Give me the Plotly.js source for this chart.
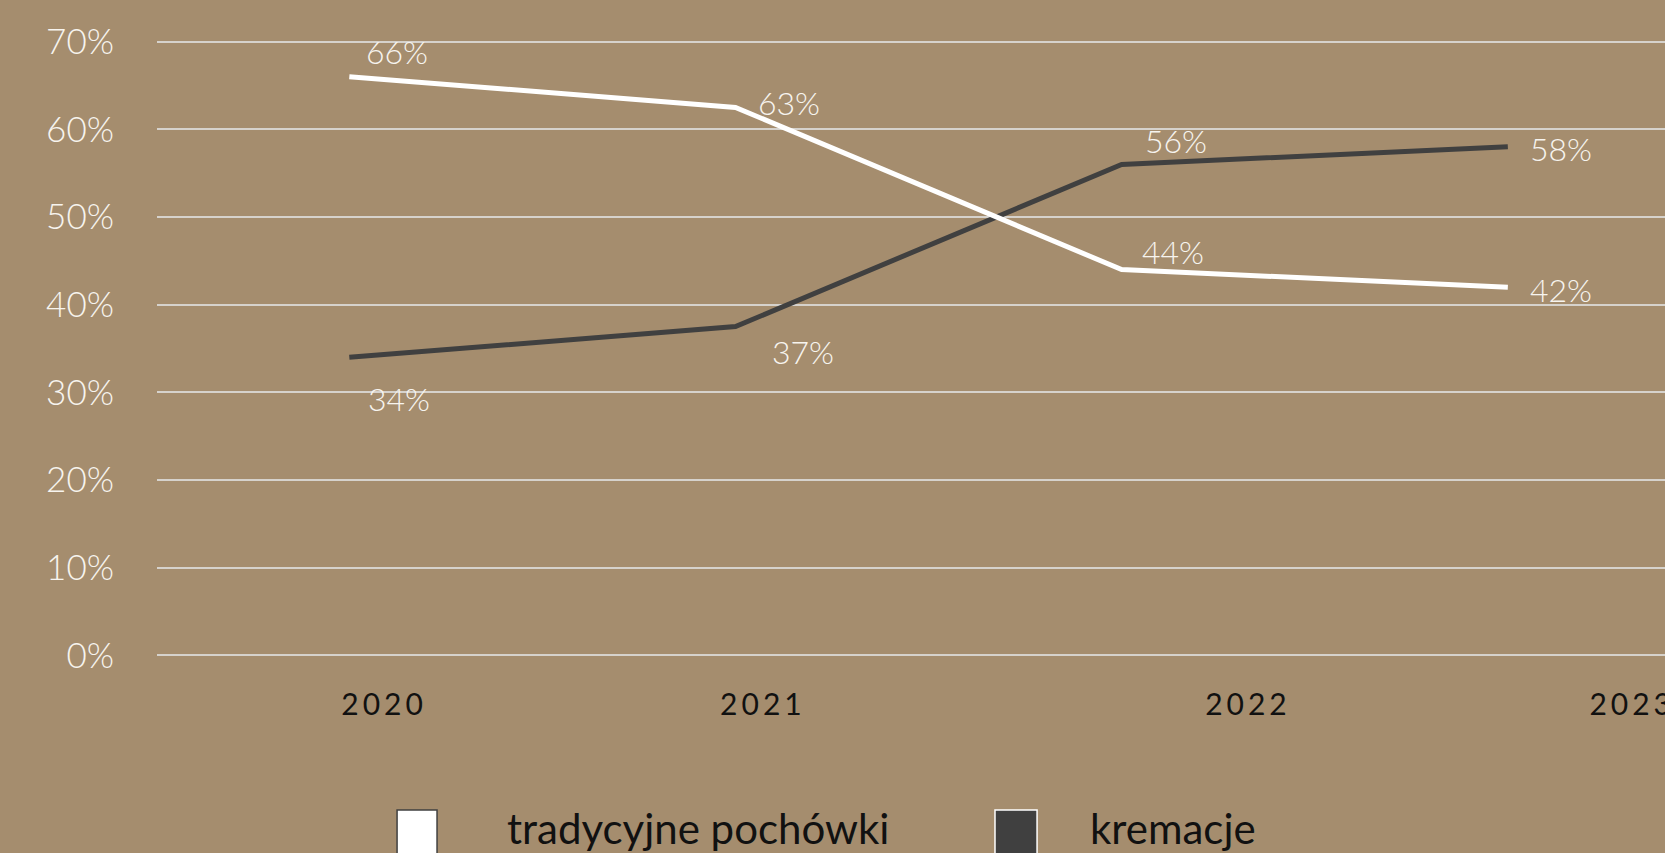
<!DOCTYPE html>
<html>
<head>
<meta charset="utf-8">
<script src="https://cdn.plot.ly/plotly-3.0.1.min.js"></script>
<style>
  html, body { margin: 0; padding: 0; background: #a58d6e; }
  #myDiv { width: 1665px; height: 853px; }
  .xtick text { letter-spacing: 4px; }
</style>
</head>
<body>
<div id="myDiv"></div>
<script>
var years = [2020, 2021, 2022, 2023];
var yearLabels = ['2020', '2021', '2022', '2023'];
var tradycyjne = [66, 62.5, 44, 42];
var kremacje = [34, 37.5, 56, 58];
var tradycyjneLabels = ['66%', '63%', '44%', '42%'];
var kremacjeLabels = ['34%', '37%', '56%', '58%'];
var yTicks = [0, 10, 20, 30, 40, 50, 60, 70];
var yTickLabels = ['0%', '10%', '20%', '30%', '40%', '50%', '60%', '70%'];

// where the year labels sit (they are offset from the points in the original)
var yearTickPos = [2020.09, 2021.071, 2022.327, 2023.322];

// label offsets in px, per point
var tradShiftX = [15, 21, 18, 20];
var tradShiftY = [25, 5, 18, -2];
var kremShiftX = [17, 35, 21, 20];
var kremShiftY = [-41, -25, 24, -2];

var bg = '#a58d6e';
var dark = '#404040';
var labelFont = {family: 'Lato, sans-serif', size: 32, color: '#f7f4ef', weight: 300};

var trace1 = {
  x: years,
  y: tradycyjne,
  name: 'tradycyjne pochówki',
  mode: 'lines',
  line: {color: '#ffffff', width: 5},
  showlegend: false
};

var trace2 = {
  x: years,
  y: kremacje,
  name: 'kremacje',
  mode: 'lines',
  line: {color: dark, width: 5},
  showlegend: false
};

var data = [trace2, trace1];

var annotations = [];
years.forEach(function (yr, i) {
  annotations.push({
    x: yr, y: tradycyjne[i], xref: 'x', yref: 'y',
    text: tradycyjneLabels[i], showarrow: false,
    xanchor: 'left', yanchor: 'middle',
    xshift: tradShiftX[i], yshift: tradShiftY[i],
    font: labelFont
  });
  annotations.push({
    x: yr, y: kremacje[i], xref: 'x', yref: 'y',
    text: kremacjeLabels[i], showarrow: false,
    xanchor: 'left', yanchor: 'middle',
    xshift: kremShiftX[i], yshift: kremShiftY[i],
    font: labelFont
  });
});

// legend by hand: squares + text
var legendFont = {family: 'Lato, sans-serif', size: 42, color: '#111111'};
annotations.push({
  x: 0.2308, y: -0.2746, xref: 'paper', yref: 'paper',
  text: 'tradycyjne pochówki', showarrow: false,
  xanchor: 'left', yanchor: 'middle', font: legendFont
});
annotations.push({
  x: 0.6174, y: -0.2746, xref: 'paper', yref: 'paper',
  text: 'kremacje', showarrow: false,
  xanchor: 'left', yanchor: 'middle', font: legendFont
});

var shapes = [
  {type: 'rect', xref: 'paper', yref: 'paper', x0: 0.1592, x1: 0.1857, y0: -0.2456, y1: -0.345,
   fillcolor: '#ffffff', line: {color: dark, width: 1.5}},
  {type: 'rect', xref: 'paper', yref: 'paper', x0: 0.5557, x1: 0.5836, y0: -0.2456, y1: -0.345,
   fillcolor: dark, line: {color: '#ffffff', width: 1.5}}
];

var layout = {
  width: 1665,
  height: 853,
  margin: {l: 157, r: 0, t: 39, b: 195},
  paper_bgcolor: bg,
  plot_bgcolor: bg,
  showlegend: false,
  hovermode: false,
  xaxis: {
    range: [2019.502, 2023.407],
    tickvals: yearTickPos,
    ticktext: yearLabels,
    showgrid: false,
    zeroline: false,
    showline: false,
    ticks: '',
    ticklabelstandoff: 26,
    ticklabeloverflow: 'allow',
    tickfont: {family: 'Lato, sans-serif', size: 30, color: '#111111'}
  },
  yaxis: {
    range: [-0.3, 70.3],
    tickvals: yTicks,
    ticktext: yTickLabels,
    showgrid: true,
    gridcolor: '#d6d2cc',
    gridwidth: 2,
    zeroline: false,
    showline: false,
    ticks: '',
    ticklabelstandoff: 42,
    tickfont: {family: 'Lato, sans-serif', size: 35, color: '#f7f4ef', weight: 300}
  },
  annotations: annotations,
  shapes: shapes
};

Plotly.newPlot('myDiv', data, layout, {displayModeBar: false, showTips: false});
</script>
</body>
</html>
